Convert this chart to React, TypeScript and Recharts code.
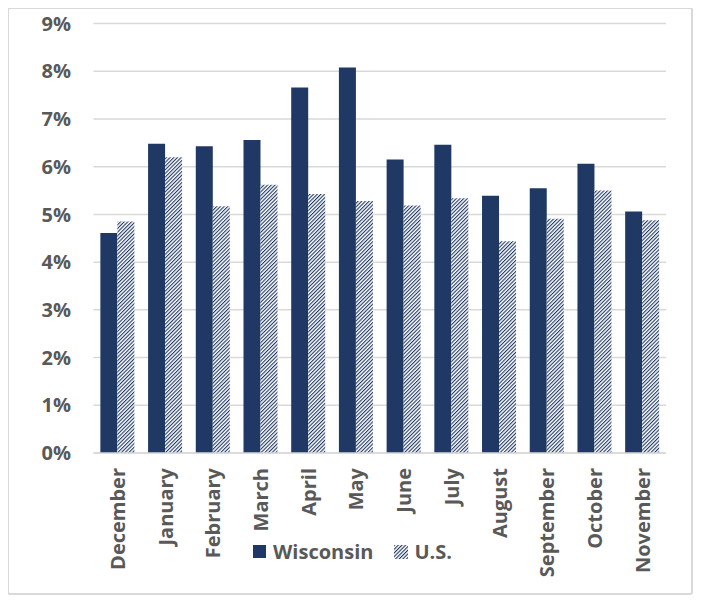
import { BarChart, Bar, XAxis, YAxis, CartesianGrid, Legend } from 'recharts'

const months = [
  'December',
  'January',
  'February',
  'March',
  'April',
  'May',
  'June',
  'July',
  'August',
  'September',
  'October',
  'November',
]
const wisconsin = [4.61, 6.48, 6.43, 6.56, 7.66, 8.08, 6.15, 6.46, 5.39, 5.55, 6.06, 5.06]
const us = [4.85, 6.2, 5.17, 5.62, 5.43, 5.28, 5.19, 5.34, 4.44, 4.91, 5.5, 4.88]
const yTicks = [0, 1, 2, 3, 4, 5, 6, 7, 8, 9]

const data = months.map((month, i) => ({ month, wisconsin: wisconsin[i], us: us[i] }))

const NAVY = '#1F3864'
const GRAY = '#595959'
const GRID = '#D9D9D9'
const FONT = '"Open Sans", Lato, sans-serif'

function HatchPattern({ id }: { id: string }) {
  return (
    <pattern id={id} patternUnits="userSpaceOnUse" width={2.6} height={2.6} patternTransform="rotate(45)">
      <rect width={2.6} height={2.6} fill="#fff" />
      <line x1={0.55} y1={0} x2={0.55} y2={2.6} stroke={NAVY} strokeWidth={1.1} />
    </pattern>
  )
}

function MonthTick({ x, y, payload }: any) {
  return (
    <text
      transform={`translate(${x},${y + 15}) rotate(-90)`}
      textAnchor="end"
      dominantBaseline="central"
      fill={GRAY}
      fontSize={20}
      fontWeight={700}
      fontFamily={FONT}
    >
      {payload.value}
    </text>
  )
}

function renderLegend() {
  return (
    <div
      style={{
        display: 'flex',
        alignItems: 'center',
        fontFamily: FONT,
        fontWeight: 700,
        fontSize: 20,
        color: GRAY,
        whiteSpace: 'nowrap',
      }}
    >
      <svg width={13} height={13}>
        <rect width={13} height={13} fill={NAVY} />
      </svg>
      <span style={{ marginLeft: 7 }}>Wisconsin</span>
      <svg width={14} height={14} style={{ marginLeft: 21 }}>
        <defs>
          <HatchPattern id="legendHatch" />
        </defs>
        <rect width={14} height={14} fill="url(#legendHatch)" />
      </svg>
      <span style={{ marginLeft: 6 }}>U.S.</span>
    </div>
  )
}

export default function App() {
  return (
    <div
      style={{
        position: 'relative',
        left: -1,
        top: -1,
        width: 682,
        height: 584,
        border: `2px solid ${GRID}`,
        borderRadius: 3,
      }}
    >
      <BarChart
        width={682}
        height={584}
        data={data}
        margin={{ top: 14.6, right: 25, bottom: 0, left: 0 }}
        barCategoryGap="14.4%"
        barGap={0}
      >
        <defs>
          <HatchPattern id="usHatch" />
        </defs>
        <CartesianGrid vertical={false} stroke={GRID} strokeWidth={1.5} />
        <XAxis
          dataKey="month"
          interval={0}
          height={140}
          tickLine={false}
          tickSize={0}
          tickMargin={0}
          axisLine={{ stroke: GRID, strokeWidth: 1.5 }}
          tick={<MonthTick />}
        />
        <YAxis
          width={84.5}
          domain={[0, 9]}
          ticks={yTicks}
          axisLine={false}
          tickLine={false}
          tickSize={0}
          tickMargin={22.5}
          tickFormatter={(v: number) => `${v}%`}
          tick={{ fill: GRAY, fontSize: 20, fontWeight: 700, fontFamily: FONT }}
        />
        <Legend
          layout="horizontal"
          verticalAlign="middle"
          align="center"
          content={renderLegend}
          wrapperStyle={{ left: 244, top: 529, width: 'auto' }}
        />
        <Bar dataKey="wisconsin" name="Wisconsin" fill={NAVY} isAnimationActive={false} />
        <Bar dataKey="us" name="U.S." fill="url(#usHatch)" isAnimationActive={false} />
      </BarChart>
    </div>
  )
}
